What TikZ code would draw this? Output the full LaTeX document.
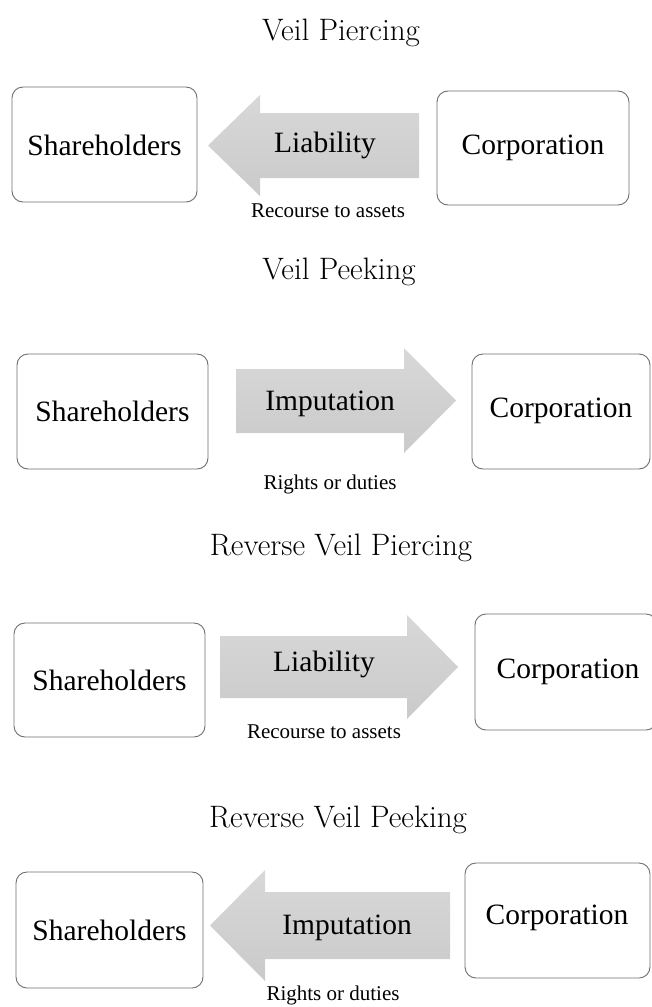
\documentclass[tikz,border=0pt]{standalone}
\usepackage{fontspec}
\setmainfont{Liberation Serif}
\newfontfamily\titlefont{Latin Modern Roman}
\begin{document}
\begin{tikzpicture}[x=1pt,y=-1pt,
  box/.style={draw={rgb,255:red,110;green,110;blue,110},line width=0.9pt,rounded corners=11pt,fill=white},
  boxtext/.style={font=\fontsize{29.5}{34}\selectfont,inner sep=0pt},
  captext/.style={font=\fontsize{21}{25}\selectfont,inner sep=0pt},
  ttl/.style={font=\titlefont\fontsize{31}{36}\selectfont,text=black,inner sep=0pt},
  blockarrow/.style={top color={rgb,255:red,216;green,216;blue,216},bottom color={rgb,255:red,202;green,202;blue,202},draw=none}
]
\useasboundingbox (0,0) rectangle (652,1007);

% ---------- Section 1: Veil Piercing ----------
\node[ttl] (t1) at (341,33) {Veil Piercing};
\draw[box] (12,87) rectangle (197,202);
\node[boxtext] (sh1) at (104.5,145) {Shareholders};
\draw[box] (437,91) rectangle (629,205);
\node[boxtext] (co1) at (533,148) {Corporation};
\shade[blockarrow] (208,145.5) -- (260,95) -- (260,113) -- (419,113) -- (419,178) -- (260,178) -- (260,196) -- cycle;
\node[boxtext] (a1) at (325,145) {Liability};
\node[captext] (c1) at (328,211) {Recourse to assets};

% ---------- Section 2: Veil Peeking ----------
\node[ttl] (t2) at (339,272) {Veil Peeking};
\draw[box] (17,354) rectangle (208,469);
\node[boxtext] (sh2) at (112.5,411) {Shareholders};
\draw[box] (472,354) rectangle (650,469);
\node[boxtext] (co2) at (561,411) {Corporation};
\shade[blockarrow] (236,369) -- (404,369) -- (404,348) -- (456,400.5) -- (404,453) -- (404,433) -- (236,433) -- cycle;
\node[boxtext] (a2) at (330,404) {Imputation};
\node[captext] (c2) at (330,484) {Rights or duties};

% ---------- Section 3: Reverse Veil Piercing ----------
\node[ttl] (t3) at (341,548) {Reverse Veil Piercing};
\draw[box] (14,623) rectangle (205,737);
\node[boxtext] (sh3) at (109.5,680) {Shareholders};
\draw[box] (475,614) rectangle (657,730);
\node[boxtext] (co3) at (568,672) {Corporation};
\shade[blockarrow] (220,636) -- (407,636) -- (407,615) -- (458,667) -- (407,719) -- (407,698) -- (220,698) -- cycle;
\node[boxtext] (a3) at (324,664) {Liability};
\node[captext] (c3) at (324,732) {Recourse to assets};

% ---------- Section 4: Reverse Veil Peeking ----------
\node[ttl] (t4) at (338,820) {Reverse Veil Peeking};
\draw[box] (16,872) rectangle (203,988);
\node[boxtext] (sh4) at (109.5,930) {Shareholders};
\draw[box] (465,863) rectangle (650,978);
\node[boxtext] (co4) at (557,918) {Corporation};
\shade[blockarrow] (210,925.5) -- (265,870) -- (265,892) -- (450,892) -- (450,959) -- (265,959) -- (265,981) -- cycle;
\node[boxtext] (a4) at (347,928) {Imputation};
\node[captext] (c4) at (333,995) {Rights or duties};
\end{tikzpicture}
\end{document}
